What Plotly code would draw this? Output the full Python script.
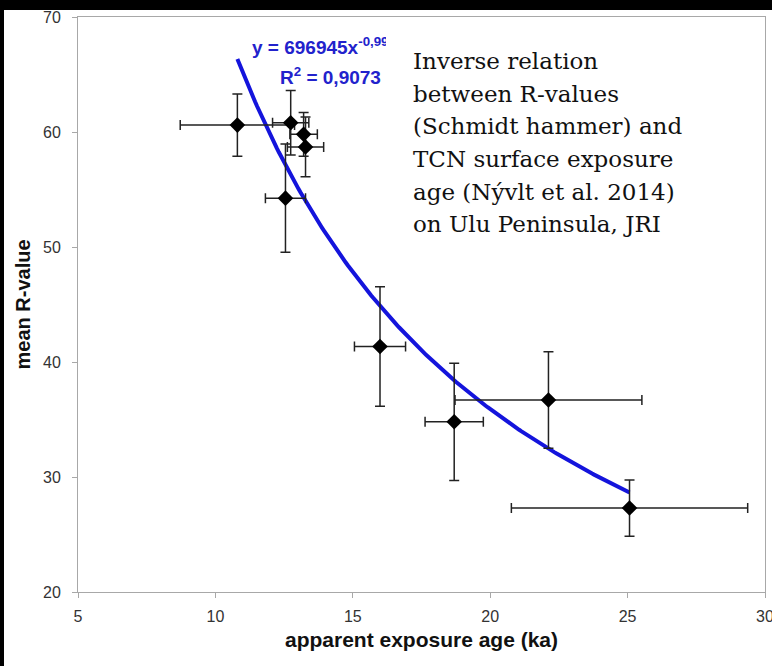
import numpy as np
import plotly.graph_objects as go

# ---- data ----
age_ka = [10.8, 12.74, 13.21, 13.28, 12.55, 15.99, 18.69, 22.12, 25.07]
r_value = [60.6, 60.8, 59.8, 58.7, 54.25, 41.35, 34.8, 36.7, 27.3]
age_err = [2.08, 0.66, 0.5, 0.66, 0.73, 0.93, 1.06, 3.4, 4.3]
r_err = [2.7, 2.8, 1.9, 2.6, 4.7, 5.2, 5.1, 4.2, 2.45]

# power trend line shown on the chart (x in years): y = 696945 x^-0.997
fit_a = 696945.0
fit_b = -0.997

x_ticks = [5, 10, 15, 20, 25, 30]
y_ticks = [20, 30, 40, 50, 60, 70]

desc_lines = [
    "Inverse relation",
    "between R-values",
    "(Schmidt hammer) and",
    "TCN surface exposure",
    "age (Nývlt et al. 2014)",
    "on Ulu Peninsula, JRI",
]

W, H = 772, 666
ML, MR, MT, MB = 78, 7, 17, 74
PW, PH = W - ML - MR, H - MT - MB


def px_x(px):
    return (px - ML) / PW


def px_y(py):
    return (H - MB - py) / PH


fit_x = np.linspace(min(age_ka), max(age_ka), 200)
fit_y = fit_a * (fit_x * 1000.0) ** fit_b

fig = go.Figure()
fig.add_trace(go.Scatter(
    x=fit_x, y=fit_y, mode="lines",
    line=dict(color="#1414dc", width=4),
    hoverinfo="skip", showlegend=False,
))
fig.add_trace(go.Scatter(
    x=age_ka, y=r_value, mode="markers",
    marker=dict(symbol="diamond", size=12, color="black"),
    error_x=dict(type="data", array=age_err, color="#222222", thickness=1.5, width=5),
    error_y=dict(type="data", array=r_err, color="#222222", thickness=1.5, width=5),
    showlegend=False,
))

annotations = []
# equation text (partly hidden behind the description box)
annotations.append(dict(
    xref="paper", yref="paper", x=px_x(250), y=px_y(46),
    xanchor="left", yanchor="middle", showarrow=False,
    text="<b>y = 696945x<sup>-0,997</sup></b>",
    font=dict(family="Liberation Sans, Arial", size=19, color="#2222cc"),
))
annotations.append(dict(
    xref="paper", yref="paper", x=px_x(278), y=px_y(76),
    xanchor="left", yanchor="middle", showarrow=False,
    text="<b>R<sup>2</sup> = 0,9073</b>",
    font=dict(family="Liberation Sans, Arial", size=19, color="#2222cc"),
))
# white description box
annotations.append(dict(
    xref="paper", yref="paper", x=px_x(386), y=px_y(27),
    xanchor="left", yanchor="top", showarrow=False,
    text=" ", width=377, height=240, bgcolor="white",
    borderpad=0, borderwidth=0,
))
baselines = [69, 102, 134, 167, 200, 232]
for line, bl in zip(desc_lines, baselines):
    annotations.append(dict(
        xref="paper", yref="paper", x=px_x(411), y=px_y(bl - 8),
        xanchor="left", yanchor="middle", showarrow=False,
        text=line,
        font=dict(family="DejaVu Serif", size=23, color="#111111"),
    ))

shapes = [
    # black strips of the scanned image border
    dict(type="rect", xref="paper", yref="paper", layer="above",
         x0=px_x(0), x1=px_x(4), y0=px_y(H), y1=px_y(0),
         fillcolor="black", line=dict(width=0)),
    dict(type="rect", xref="paper", yref="paper", layer="above",
         x0=px_x(0), x1=px_x(W), y0=px_y(10), y1=px_y(0),
         fillcolor="black", line=dict(width=0)),
]

axis_common = dict(
    showgrid=False, zeroline=False, automargin=False,
    showline=True, linecolor="#a8a8a8", linewidth=1, mirror=True,
    ticks="outside", ticklen=5, tickcolor="#a8a8a8",
    ticklabeloverflow="allow",
    tickfont=dict(family="Liberation Sans, Arial", size=16, color="#333333"),
)

fig.update_layout(
    width=W, height=H,
    margin=dict(l=ML, r=MR, t=MT, b=MB, autoexpand=False),
    paper_bgcolor="white", plot_bgcolor="white",
    xaxis=dict(range=[5, 30], tickvals=x_ticks, ticklabelstandoff=5,
               title=dict(text="<b>apparent exposure age (ka)</b>", standoff=8,
                          font=dict(family="Liberation Sans, Arial", size=21, color="#111111")),
               **axis_common),
    yaxis=dict(range=[20, 70], tickvals=y_ticks, ticklabelstandoff=8,
               title=dict(text="<b>mean R-value</b>", standoff=7,
                          font=dict(family="Liberation Sans, Arial", size=20, color="#111111")),
               **axis_common),
    annotations=annotations,
    shapes=shapes,
)

fig.write_html("out.html")
